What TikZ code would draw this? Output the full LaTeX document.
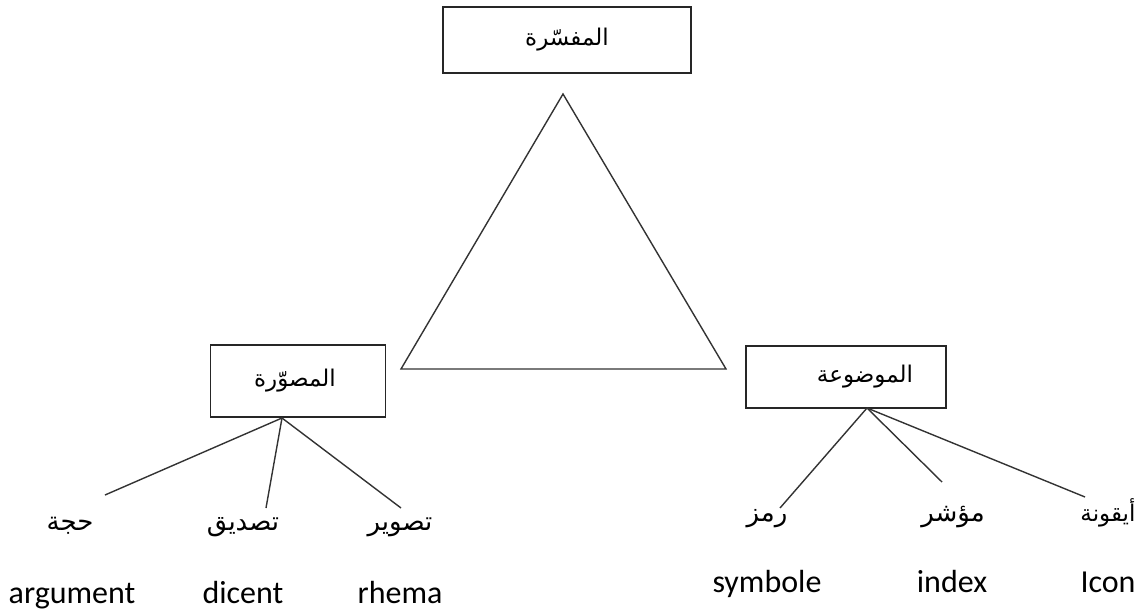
\documentclass[tikz,border=0pt]{standalone}
\usepackage{fontspec}
\setmainfont{Carlito}
\newfontfamily\arabicfont[Script=Arabic]{DejaVu Sans}
\TeXXeTstate=1
\begin{document}
\begin{tikzpicture}[x=1pt,y=-1pt,
  box/.style={draw=black!85,line width=1.8pt,inner sep=0pt,font=\arabicfont\fontsize{23}{27}\selectfont},
  ar/.style={font=\arabicfont\fontsize{26}{30}\selectfont,inner sep=0pt,anchor=base},
  en/.style={font=\fontsize{32}{38}\selectfont,inner sep=0pt,anchor=base},
  link/.style={draw=black!80,line width=1.4pt}]
\useasboundingbox (0,0) rectangle (1139,612);
% boxes
\node[box,minimum width=248pt,minimum height=66pt] (top) at (567,40) {\raisebox{3pt}{\beginR المفسّرة\endR}};
\node[box,minimum width=175pt,minimum height=72pt] (left) at (298,381) {\hspace*{-6pt}\raisebox{4pt}{\beginR المصوّرة\endR}};
\node[box,minimum width=200pt,minimum height=62pt] (right) at (846,377) {\hspace*{38pt}\raisebox{4pt}{\beginR الموضوعة\endR}};
% triangle
\draw[link] (563,94) -- (726,369) -- (401,369) -- cycle;
% branches
\coordinate (lo) at (282,418);
\coordinate (l1) at (105,495);
\coordinate (l2) at (266,508);
\coordinate (l3) at (401,508);
\draw[link] (lo) -- (l1);
\draw[link] (lo) -- (l2);
\draw[link] (lo) -- (l3);
\coordinate (ro) at (867,408);
\coordinate (r1) at (780,508);
\coordinate (r2) at (942,482);
\coordinate (r3) at (1085,497);
\draw[link] (ro) -- (r1);
\draw[link] (ro) -- (r2);
\draw[link] (ro) -- (r3);
% labels
\node[ar] (a1) at (70,530) {\beginR حجة\endR};
\node[ar] (a2) at (243,530) {\beginR تصديق\endR};
\node[ar] (a3) at (400,530) {\beginR تصوير\endR};
\node[ar] (b1) at (767,521) {\beginR رمز\endR};
\node[ar] (b2) at (953,521) {\beginR مؤشر\endR};
\node[ar,font=\arabicfont\fontsize{23}{27}\selectfont] (b3) at (1108,521) {\beginR أيقونة\endR};
\node[en] (e1) at (72,603) {argument};
\node[en] (e2) at (243,603) {dicent};
\node[en] (e3) at (400,603) {rhema};
\node[en] (f1) at (767,592) {symbole};
\node[en] (f2) at (952,592) {index};
\node[en] (f3) at (1108,592) {Icon};
\end{tikzpicture}
\end{document}
